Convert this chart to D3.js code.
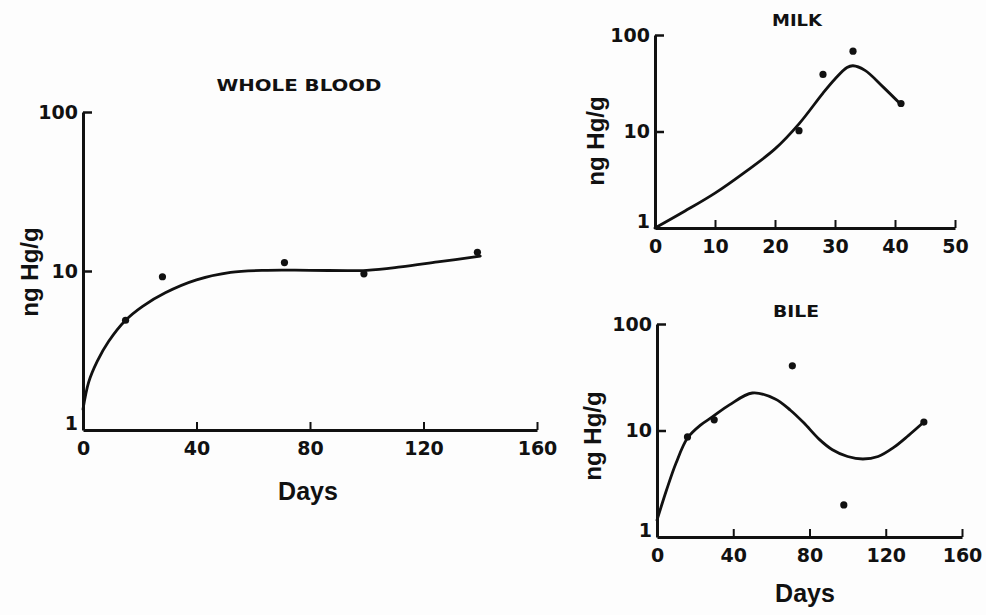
<!DOCTYPE html>
<html>
<head>
<meta charset="utf-8">
<script src="https://cdn.jsdelivr.net/npm/d3@7"></script>
<style>
  html, body { margin: 0; padding: 0; background: #fdfdfd; }
  svg { display: block; }
  .tick text { font-family: "DejaVu Sans", sans-serif; font-weight: bold; font-size: 19px; fill: #111; }
  .ttl { font-family: "DejaVu Sans", sans-serif; font-weight: bold; font-size: 16px; fill: #111; }
  .lab { font-family: "Liberation Sans", Arial, sans-serif; font-weight: bold; font-size: 25px; fill: #111; }
</style>
</head>
<body>
<svg id="chart" width="986" height="615"></svg>
<script>
// ---------- data ----------
const yTickValues = [1, 10, 100];

const bloodTitle = "WHOLE BLOOD";
const bloodXTicks = [0, 40, 80, 120, 160];
const bloodDays = [15, 28, 71, 99, 139];
const bloodValues = [4.9, 9.2, 11.3, 9.6, 13.1];
const bloodCurveDays = [0, 2, 5, 9, 15, 21, 29, 40, 52, 65, 80, 100, 112, 125, 140];
const bloodCurveValues = [1.35, 2.0, 2.7, 3.6, 4.9, 6.0, 7.3, 8.8, 9.8, 10.1, 10.1, 10.1, 10.6, 11.4, 12.4];

const milkTitle = "MILK";
const milkXTicks = [0, 10, 20, 30, 40, 50];
const milkDays = [24, 28, 33, 41];
const milkValues = [10.2, 39, 68, 19.5];
const milkCurveDays = [0, 5, 10, 15, 20, 24, 28, 30, 32, 33, 35, 38, 41];
const milkCurveValues = [1.0, 1.5, 2.3, 3.8, 6.6, 12, 25, 35, 46, 48, 43, 29, 19];

const bileTitle = "BILE";
const bileXTicks = [0, 40, 80, 120, 160];
const bileDays = [16, 30, 71, 98, 140];
const bileValues = [8.7, 12.6, 40.5, 2.0, 12.0];
const bileCurveDays = [0, 5, 10, 16, 23, 29, 38, 50, 62, 70, 77, 85, 92, 100, 108, 116, 124, 132, 140];
const bileCurveValues = [1.44, 2.76, 4.95, 8.5, 11.3, 13.4, 17.4, 22.5, 19.8, 15.5, 11.8, 8.3, 6.6, 5.7, 5.4, 5.7, 6.9, 9.0, 12.0];

const xLabel = "Days";
const yLabel = "ng Hg/g";

// ---------- drawing ----------
const svg = d3.select("#chart");

function panel(cfg) {
  const x = d3.scaleLinear().domain(cfg.xDomain).range(cfg.xRange);
  const y = d3.scaleLog().domain([1, 100]).range(cfg.yRange);
  const g = svg.append("g");

  // x axis
  const xa = g.append("g")
    .attr("transform", `translate(0,${cfg.yRange[0]})`)
    .call(d3.axisBottom(x).tickValues(cfg.xTicks).tickSizeInner(-8).tickSizeOuter(0).tickPadding(10).tickFormat(d3.format("d")));
  xa.select(".domain").attr("stroke", "#111").attr("stroke-width", 3);
  xa.selectAll(".tick line").attr("stroke", "#111").attr("stroke-width", 2)
    .attr("display", d => d === cfg.xDomain[0] ? "none" : null);
  xa.selectAll(".tick text").attr("dy", "0.8em");

  // y axis
  const ya = g.append("g")
    .attr("transform", `translate(${cfg.xRange[0]},0)`)
    .call(d3.axisLeft(y).tickValues(yTickValues).tickSizeInner(-9).tickSizeOuter(0).tickPadding(5).tickFormat(d3.format("d")));
  ya.select(".domain").attr("stroke", "#111").attr("stroke-width", 3);
  ya.selectAll(".tick line").attr("stroke", "#111").attr("stroke-width", 2.5)
    .attr("display", d => d === 1 ? "none" : null);
  ya.selectAll(".tick text").filter(d => d === 1).attr("dy", "-0.05em");

  // curve
  const line = d3.line()
    .x((d, i) => x(cfg.curveDays[i]))
    .y((d, i) => y(cfg.curveValues[i]))
    .curve(d3.curveCatmullRom.alpha(0.5));
  g.append("path")
    .datum(cfg.curveDays)
    .attr("d", line)
    .attr("fill", "none")
    .attr("stroke", "#111")
    .attr("stroke-width", 2.8)
    .attr("stroke-linecap", "round");

  // points
  g.selectAll("circle.pt")
    .data(cfg.days)
    .join("circle")
    .attr("class", "pt")
    .attr("cx", d => x(d))
    .attr("cy", (d, i) => y(cfg.values[i]))
    .attr("r", 3.6)
    .attr("fill", "#111");

  // title
  g.append("text").attr("class", "ttl")
    .attr("x", cfg.titlePos[0]).attr("y", cfg.titlePos[1])
    .attr("text-anchor", "middle")
    .attr("textLength", cfg.titleLen).attr("lengthAdjust", "spacingAndGlyphs")
    .text(cfg.title);

  // y label
  g.append("text").attr("class", "lab")
    .attr("transform", `translate(${cfg.yLabPos[0]},${cfg.yLabPos[1]}) rotate(-90)`)
    .attr("text-anchor", "middle")
    .attr("dy", "0.35em")
    .style("font-size", "24px")
    .text(yLabel);

  // x label
  if (cfg.xLabPos) {
    g.append("text").attr("class", "lab")
      .attr("x", cfg.xLabPos[0]).attr("y", cfg.xLabPos[1])
      .attr("text-anchor", "middle")
      .text(xLabel);
  }
}

panel({
  xDomain: [0, 160], xRange: [83, 537], yRange: [430, 112],
  xTicks: bloodXTicks, days: bloodDays, values: bloodValues,
  curveDays: bloodCurveDays, curveValues: bloodCurveValues,
  title: bloodTitle, titlePos: [299, 91], titleLen: 165,
  yLabPos: [30, 272], xLabPos: [308, 500]
});

panel({
  xDomain: [0, 50], xRange: [655, 955], yRange: [228, 35],
  xTicks: milkXTicks, days: milkDays, values: milkValues,
  curveDays: milkCurveDays, curveValues: milkCurveValues,
  title: milkTitle, titlePos: [797, 26], titleLen: 50,
  yLabPos: [596, 141], xLabPos: null
});

panel({
  xDomain: [0, 160], xRange: [657, 962], yRange: [537, 324],
  xTicks: bileXTicks, days: bileDays, values: bileValues,
  curveDays: bileCurveDays, curveValues: bileCurveValues,
  title: bileTitle, titlePos: [796, 317], titleLen: 46,
  yLabPos: [593, 436], xLabPos: [805, 602]
});
</script>
</body>
</html>
